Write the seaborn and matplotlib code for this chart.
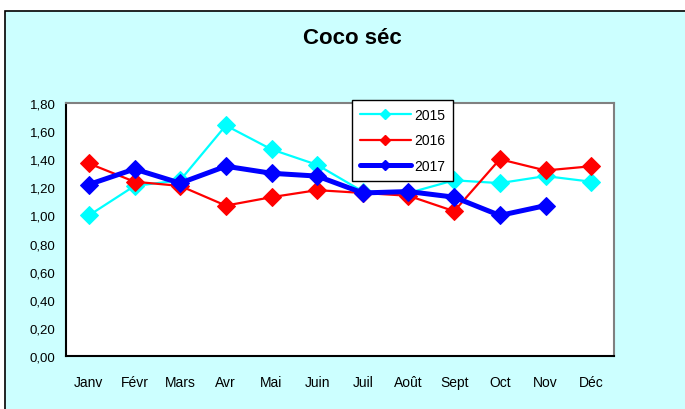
import matplotlib
matplotlib.use("Agg")
import matplotlib.pyplot as plt
from matplotlib.patches import Rectangle
from matplotlib.lines import Line2D
from matplotlib.ticker import FuncFormatter, FixedLocator
import seaborn as sns
import pandas as pd
import numpy as np

# données
mois = ['Janv', 'Févr', 'Mars', 'Avr', 'Mai', 'Juin',
        'Juil', 'Août', 'Sept', 'Oct', 'Nov', 'Déc']
v2015 = [1.00, 1.21, 1.25, 1.64, 1.47, 1.36, 1.17, 1.16, 1.25, 1.23, 1.28, 1.24]
v2016 = [1.37, 1.24, 1.21, 1.07, 1.13, 1.18, 1.16, 1.14, 1.03, 1.40, 1.32, 1.35]
v2017 = [1.22, 1.33, 1.23, 1.35, 1.30, 1.28, 1.16, 1.17, 1.13, 1.00, 1.07, np.nan]
annees = ['2015', '2016', '2017']
couleurs = {'2015': '#00FFFF', '2016': '#FF0000', '2017': '#0000FF'}
epaisseurs = {'2015': 1.6, '2016': 1.6, '2017': 3.6}

df = pd.DataFrame({'mois': mois * 3,
                   'prix': v2015 + v2016 + v2017,
                   'annee': [a for a in annees for _ in mois]})
df['pos'] = np.tile(np.arange(len(mois)), 3)

sns.set_style("white")
plt.rcParams['font.family'] = ['Liberation Sans', 'DejaVu Sans']
plt.rcParams['text.color'] = 'black'
plt.rcParams['xtick.color'] = 'black'
plt.rcParams['ytick.color'] = 'black'

fig = plt.figure(figsize=(6.85, 4.10), dpi=100)
fig.patch.set_facecolor('white')
# cadre cyan façon Excel
fond = Rectangle((5 / 685, -0.01), 1.0, (410 - 12) / 410 + 0.01,
                 transform=fig.transFigure, facecolor='#CCFFFF',
                 edgecolor='black', linewidth=1.2, zorder=-10)
fig.patches.append(fond)

ax = fig.add_axes([66 / 685, (410 - 357) / 410, 548 / 685, 253 / 410])
ax.set_zorder(1)
ax.set_facecolor('white')

for a in annees:
    d = df[(df['annee'] == a)].dropna()
    sns.lineplot(data=d, x='pos', y='prix', ax=ax, color=couleurs[a],
                 linewidth=epaisseurs[a], marker='D', markersize=9.5,
                 markeredgecolor=couleurs[a], sort=False, legend=False)

ax.set_xlim(-0.5, len(mois) - 0.5)
ax.set_ylim(0, 1.8)
ax.set_yticks(np.arange(0, 1.81, 0.2))
ax.yaxis.set_major_formatter(FuncFormatter(lambda v, p: f"{v:.2f}".replace('.', ',')))
ax.set_xticks(np.arange(len(mois)))
ax.set_xticklabels(mois)
ax.xaxis.set_minor_locator(FixedLocator(np.arange(-0.5, len(mois), 1)))
ax.tick_params(axis='x', which='major', length=0, pad=14, labelsize=10)
ax.tick_params(axis='x', which='minor', length=5, width=1, direction='out', color='black')
ax.tick_params(axis='y', length=4, width=1, direction='out', labelsize=9.5, color='black')
ax.set_xlabel('')
ax.set_ylabel('')

for s in ['left', 'bottom']:
    ax.spines[s].set_color('black')
    ax.spines[s].set_linewidth(1.5)
for s in ['top', 'right']:
    ax.spines[s].set_color('#808080')
    ax.spines[s].set_linewidth(1.5)

fig.text(352 / 685, 1 - 39 / 410, 'Coco séc', ha='center', va='center',
         fontsize=16, fontweight='bold', color='black')

poignees = [Line2D([], [], color=couleurs[a], linewidth=epaisseurs[a], marker='D',
                   markersize=5) for a in annees]
leg = fig.legend(poignees, annees, loc='upper left',
                 bbox_to_anchor=(352 / 685, 1 - 101 / 410), fontsize=10,
                 frameon=True, fancybox=False, framealpha=1, edgecolor='black',
                 labelspacing=0.85, handlelength=3.7, borderpad=0.55,
                 handletextpad=0.25, borderaxespad=0)
leg.set_zorder(5)
leg.get_frame().set_linewidth(1.0)

fig.savefig('out.png', dpi=100, facecolor=fig.get_facecolor())
